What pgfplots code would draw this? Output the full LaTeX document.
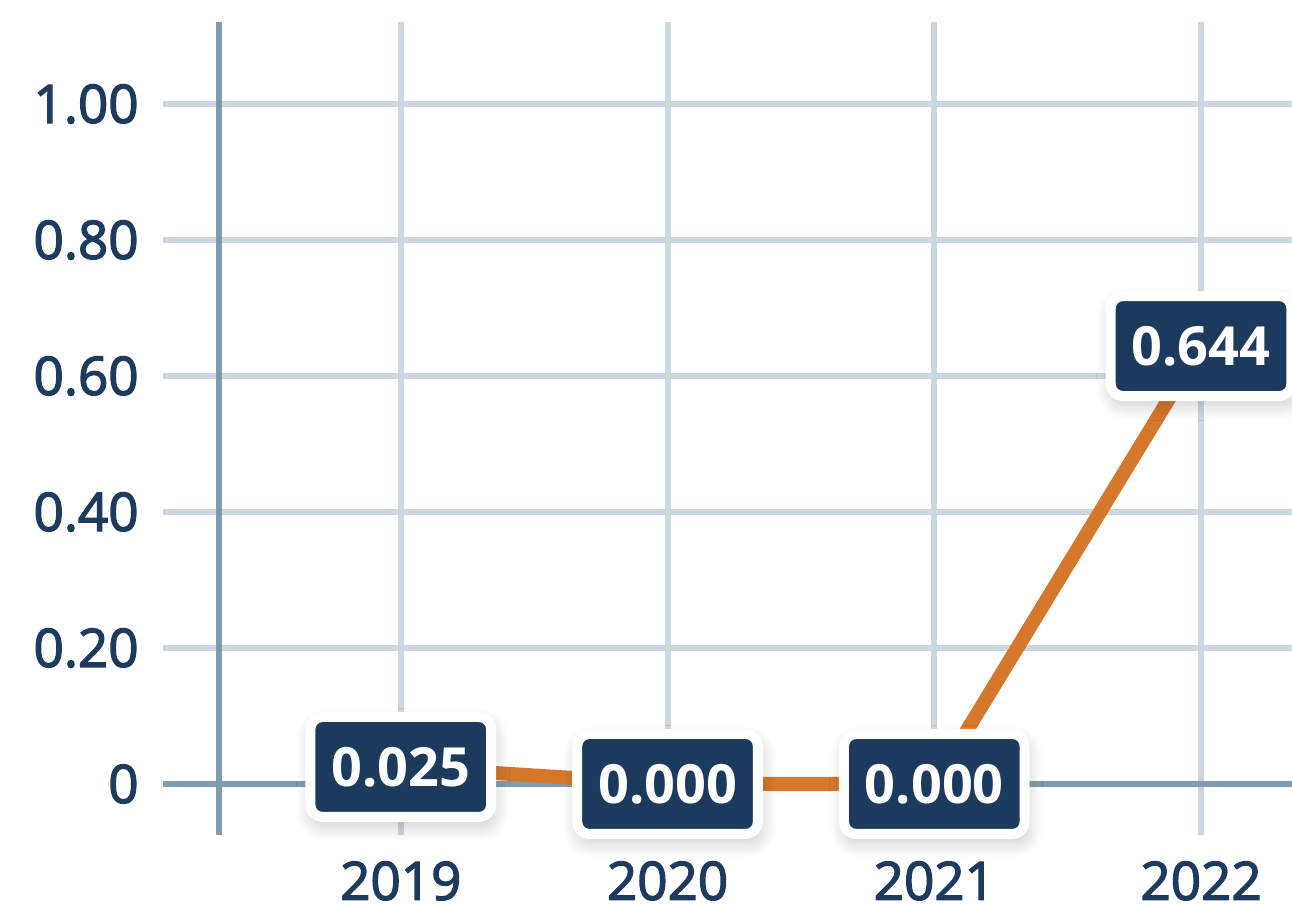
\documentclass[border=0pt]{standalone}
\usepackage{pgfplots}
\pgfplotsset{compat=1.18}
\usepackage{fontspec}
\setmainfont{Open Sans}
\newfontfamily\semibold{Open Sans}[FakeBold=2.5]
\usetikzlibrary{shadows.blur}
\definecolor{navy}{HTML}{1C3A5C}
\definecolor{tickc}{HTML}{1E3A5F}
\definecolor{gridc}{HTML}{CCD8E0}
\definecolor{axisc}{HTML}{7F9DAF}
\definecolor{linec}{HTML}{D5782C}
\begin{document}
\begin{tikzpicture}
\begin{axis}[
  at={(0,0)}, anchor=south west,
  scale only axis, width=564.5pt, height=406.5pt,
  xmin=-0.8914, xmax=3.3408, ymin=-0.075, ymax=1.1206,
  axis line style={draw=none},
  major tick length=0pt,
  xtick={0,1,2,3}, xticklabels={2019,2020,2021,2022},
  ytick={0,0.2,0.4,0.6,0.8,1}, yticklabels={0,0.20,0.40,0.60,0.80,1.00},
  xmajorgrids, ymajorgrids,
  grid style={line width=3pt, color=gridc},
  extra x ticks={-0.6816}, extra x tick labels={},
  extra x tick style={grid style={line width=3pt, color=axisc}},
  extra y ticks={0}, extra y tick labels={},
  extra y tick style={grid style={line width=3pt, color=axisc}},
  tick label style={font=\semibold\fontsize{26.5}{30}\selectfont, text=tickc},
  yticklabel style={anchor=east, inner sep=0pt, xshift=-12pt},
  xticklabel style={anchor=north, inner sep=0pt, yshift=-13pt},
  clip=false,
]
\addplot[color=linec, line width=7pt, line join=round, mark=none,
  nodes near coords, point meta=explicit symbolic,
  every node near coord/.append style={anchor=center, fill=navy, draw=white,
    line width=5pt, rounded corners=6pt, text=white,
    font=\bfseries\fontsize{27}{30}\selectfont,
    inner xsep=10.5pt, minimum height=50pt,
    blur shadow={shadow xshift=1pt, shadow yshift=-4pt, shadow blur radius=8pt,
      shadow blur steps=12, shadow opacity=22}}]
  coordinates {(0,0.025)[0.025] (1,0)[0.000] (2,0)[0.000] (3,0.644)[0.644]};
\end{axis}
\pgfresetboundingbox
\path[use as bounding box] (-81.5pt,-35pt) rectangle (564.5pt,417.5pt);
\end{tikzpicture}
\end{document}
